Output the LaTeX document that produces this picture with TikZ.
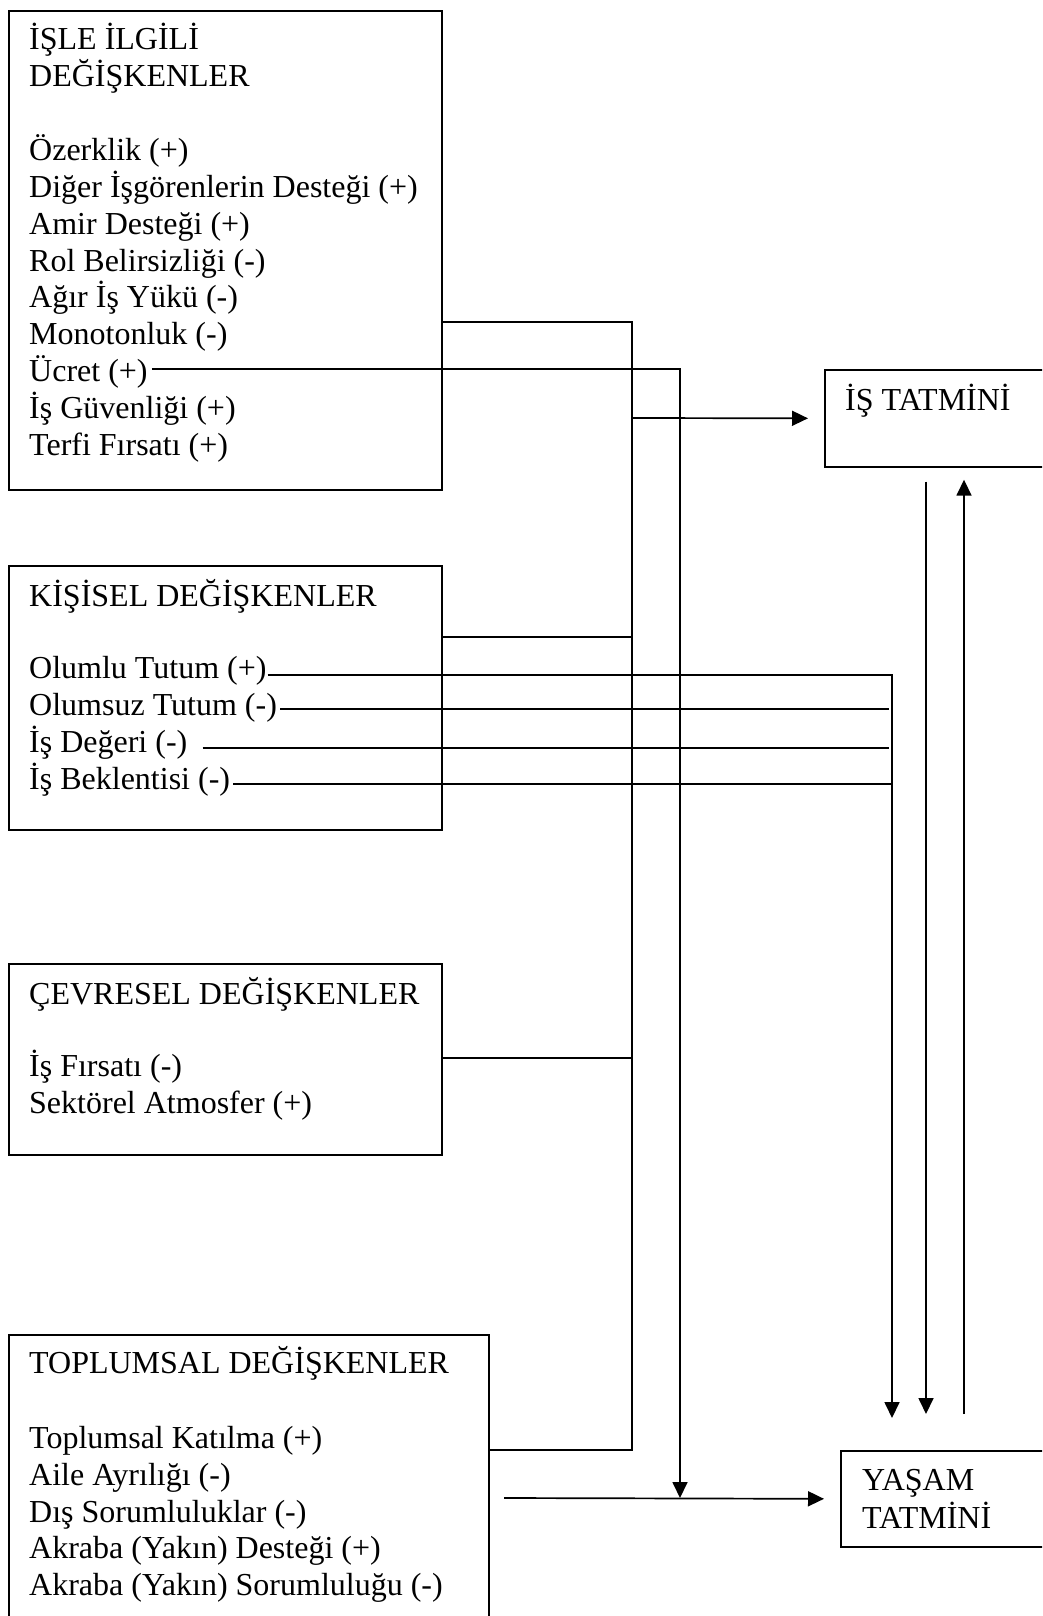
\documentclass[tikz,border=0pt]{standalone}
\usepackage{fontspec}
\setmainfont{Liberation Serif}
\usetikzlibrary{arrows.meta}
\begin{document}
\begin{tikzpicture}[x=1pt,y=-1pt,
  panel/.style={draw, line width=1.7pt, rectangle, inner sep=0pt, anchor=north west},
  lbl/.style={anchor=base west, inner sep=0pt, font=\fontsize{32}{37}\selectfont},
  wire/.style={line width=1.7pt},
  arr/.style={wire, -{Triangle[length=16pt,width=15pt]}}]
\useasboundingbox (0,0) rectangle (1042,1616);
\fill[white] (0,0) rectangle (1042,1616);
\clip (0,0) rectangle (1042,1616);

% variable groups
\node[panel, minimum width=433pt, minimum height=479pt] (isle)   at (8,10)   {};
\node[panel, minimum width=433pt, minimum height=264pt] (kisi)   at (8,565)  {};
\node[panel, minimum width=433pt, minimum height=191pt] (cevre)  at (8,963)  {};
\node[panel, minimum width=480pt, minimum height=400pt] (toplum) at (8,1334) {};
% outcomes
\node[panel, minimum width=300pt, minimum height=97pt] (is)    at (824,369)  {};
\node[panel, minimum width=300pt, minimum height=96pt] (yasam) at (840,1450) {};

% job-related variables
\node[lbl] (t1a) at (29,50) {İŞLE İLGİLİ};
\node[lbl] (t1b) at (29,87) {DEĞİŞKENLER};
\node[lbl] (ozerk)  at (29,161) {Özerklik (+)};
\node[lbl] (diger)  at (29,197.7) {Diğer İşgörenlerin Desteği (+)};
\node[lbl] (amir)   at (29,234.4) {Amir Desteği (+)};
\node[lbl] (rol)    at (29,271.1) {Rol Belirsizliği (-)};
\node[lbl] (agir)   at (29,307.8) {Ağır İş Yükü (-)};
\node[lbl] (mono)   at (29,344.5) {Monotonluk (-)};
\node[lbl] (ucret)  at (29,381.2) {Ücret (+)};
\node[lbl] (guven)  at (29,418) {İş Güvenliği (+)};
\node[lbl] (terfi)  at (29,455) {Terfi Fırsatı (+)};

% personal variables
\node[lbl] (t2) at (29,606) {KİŞİSEL DEĞİŞKENLER};
\node[lbl] (olumlu)  at (29,678) {Olumlu Tutum (+)};
\node[lbl] (olumsuz) at (29,715) {Olumsuz Tutum (-)};
\node[lbl] (deger)   at (29,752) {İş Değeri (-)};
\node[lbl] (beklen)  at (29,789) {İş Beklentisi (-)};

% environmental variables
\node[lbl] (t3) at (29,1004) {ÇEVRESEL DEĞİŞKENLER};
\node[lbl] (firsat) at (29,1076) {İş Fırsatı (-)};
\node[lbl] (sektor) at (29,1113) {Sektörel Atmosfer (+)};

% social variables
\node[lbl] (t4) at (29,1373) {TOPLUMSAL DEĞİŞKENLER};
\node[lbl] (katil)  at (29,1448) {Toplumsal Katılma (+)};
\node[lbl] (aile)   at (29,1485) {Aile Ayrılığı (-)};
\node[lbl] (dis)    at (29,1522) {Dış Sorumluluklar (-)};
\node[lbl] (akrd)   at (29,1558) {Akraba (Yakın) Desteği (+)};
\node[lbl] (akrs)   at (29,1595) {Akraba (Yakın) Sorumluluğu (-)};

% outcome labels
\node[lbl] (ist)  at (845,410)  {İŞ TATMİNİ};
\node[lbl] (ys1)  at (862,1490) {YAŞAM};
\node[lbl] (ys2)  at (862,1528) {TATMİNİ};

% collector column
\coordinate (hubtop) at (632,322);
\coordinate (hub2)   at (632,637);
\coordinate (hubout) at (632,418);
\coordinate (hub3)   at (632,1058);
\coordinate (hubbot) at (632,1450);
\draw[wire] (isle.east |- hubtop) -- (hubtop) -- (hubbot) -- (toplum.east |- hubbot);
\draw[wire] (kisi.east |- hub2) -- (hub2);
\draw[wire] (cevre.east |- hub3) -- (hub3);
\draw[arr, shorten >=16pt] (hubout) -- (is.west);

% wage line into life satisfaction input
\coordinate (merge) at (680,1498);
\draw[arr] ([shift={(4,-12)}]ucret.base east) -| (merge);
\coordinate (ysrc) at (504,1498);
\draw[arr, shorten >=16pt] (ysrc) -- (yasam.west);

% personal variable lines
\coordinate (olx)  at (892,0);
\coordinate (rcol) at (889,0);
\draw[arr, shorten >=32pt] ([shift={(1,-3)}]olumlu.base east) -| (yasam.north -| olx);
\draw[wire] ([shift={(3,-6)}]olumsuz.base east) coordinate (s2) -- (s2 -| rcol);
\draw[wire] ([shift={(15,-4)}]deger.base east) coordinate (s3) -- (s3 -| rcol);
\draw[wire] ([shift={(3,-5)}]beklen.base east) coordinate (s4) -- (s4 -| olx);

% links between the two outcomes
\coordinate (dnx) at (926,0);
\coordinate (upx) at (964,0);
\draw[arr, shorten <=14pt, shorten >=36pt] (is.south -| dnx) -- (yasam.north -| dnx);
\draw[arr, shorten <=36pt, shorten >=12pt] (yasam.north -| upx) -- (is.south -| upx);
\end{tikzpicture}
\end{document}
